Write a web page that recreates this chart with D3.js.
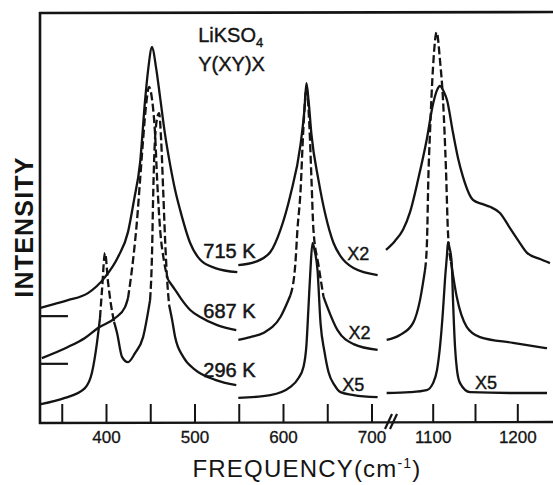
<!DOCTYPE html>
<html><head><meta charset="utf-8">
<script src="https://cdn.jsdelivr.net/npm/d3@7"></script>
<style>
body{margin:0;background:#fff;}
svg{display:block;}
text{font-family:"Liberation Sans",Arial,sans-serif;fill:#141414;}
</style></head><body>
<svg id="c" width="553" height="485"></svg>
<script>
// ---- axis data ----
const ticksLow = [350,400,450,500,550,600,650,700];
const ticksHigh = [1100,1150,1200];
const tickLabels = [400,500,600,700,1100,1200];
const tempLabels = ["715 K","687 K","296 K"];
const gainMid = ["X2","X2","X5"];
const gainHigh = ["X5"];
const zeroMarks = [26.0, 14.4];

// ---- spectra: [frequency cm^-1, intensity a.u., dashed-segment flag] ----
const k715_low = [[325.3,28.0],[342.2,29.0],[357.0,29.9],[379.6,31.6],[398.9,35.5],[413.6,40.4],[424.9,46.5],[431.7,54.3],[438.5,63.3],[444.2,78.6],[447.6,85.9],[452.1,91.5],[456.6,86.4],[461.1,79.3],[466.8,70.1],[472.5,62.8],[478.1,56.7],[483.8,51.8],[495.1,43.8],[506.5,39.7],[523.4,37.7],[548.4,36.7]];
const k687_low = [[327.5,15.8,0],[357.0,18.5,0],[376.2,20.7,0],[390.9,23.1,0],[410.2,25.5,0],[421.5,28.2,0],[424.9,30.4,1],[430.6,39.7,1],[435.1,49.4,1],[438.5,59.1,1],[441.9,68.9,1],[445.3,77.4,1],[448.7,81.8,1],[452.1,78.6,1],[455.5,70.1,1],[457.8,59.1,1],[461.2,47.0,1],[465.7,39.2,1],[470.2,34.8,0],[478.1,32.4,0],[484.9,30.2,0],[495.1,27.5,0],[506.5,25.8,0],[525.7,23.8,0],[547.2,22.6,0]];
const k296_low = [[326.4,4.6,0],[353.6,6.1,0],[376.2,8.5,0],[384.1,12.2,0],[389.8,19.5,0],[393.2,25.5,1],[395.5,32.4,1],[398.9,41.4,1],[402.3,34.3,1],[405.7,28.7,1],[409.1,24.6,0],[412.5,21.9,0],[418.1,16.1,0],[424.9,14.8,0],[432.8,17.0,0],[441.9,20.9,0],[449.8,29.9,1],[452.1,42.1,1],[453.2,54.3,1],[454.4,64.0,1],[456.6,72.5,1],[460.0,75.4,1],[462.3,68.9,1],[464.6,56.7,1],[466.8,44.5,1],[469.1,34.8,1],[471.3,28.7,0],[474.7,25.1,0],[478.1,20.9,0],[487.2,16.1,0],[500.8,12.9,0],[523.4,10.5,0],[547.2,9.2,0]];

const k715_mid = [[549.5,38.4],[568.7,39.2],[585.7,41.6],[597.1,47.0],[608.4,55.5],[619.7,67.6],[624.2,76.2],[626.5,82.7],[628.8,78.6],[632.2,70.1],[640.1,59.1],[648.0,50.6],[657.1,43.8],[665.0,40.6],[679.7,37.7],[706.9,36.0]];
const k687_mid = [[549.5,20.2,0],[563.1,20.9,0],[577.8,21.9,0],[597.1,25.8,0],[608.4,31.1,1],[614.0,38.9,1],[616.3,47.0,1],[619.7,56.0,1],[623.1,72.0,1],[626.5,81.5,1],[629.9,72.0,1],[632.2,59.1,1],[634.4,47.0,1],[640.1,38.4,1],[645.8,30.7,0],[661.6,22.6,0],[679.7,19.2,0],[706.9,17.8,0]];
const k296_mid = [[549.5,6.1],[585.7,6.8],[608.4,8.8],[617.4,10.9],[623.1,13.6],[626.5,19.0],[628.8,28.2],[631.0,37.2],[633.3,43.8],[635.6,42.1],[639.0,37.2],[642.4,24.3],[646.9,17.3],[651.4,12.4],[658.2,9.2],[665.0,7.5],[679.7,6.8],[706.9,6.3]];

const k715_high = [[1044.8,42.1],[1055.4,44.3],[1064.9,47.0],[1073.2,51.3],[1082.6,59.1],[1092.9,68.9],[1100.4,77.6],[1105.1,81.0],[1108.6,82.0],[1113.4,80.5],[1116.9,78.6],[1124.0,70.6],[1129.9,64.5],[1135.8,59.9],[1147.6,54.3],[1158.3,53.3],[1167.7,52.6],[1179.5,51.1],[1191.4,47.4],[1200.8,44.5],[1211.5,41.4],[1226.8,39.9],[1238.6,38.9]];
const k687_high = [[1045.6,20.2,0],[1061.3,21.4,0],[1076.7,24.3,0],[1085.0,29.9,0],[1090.9,37.2,1],[1093.3,44.5,1],[1094.8,59.1,1],[1096.8,70.6,1],[1100.4,86.6,1],[1104.7,95.1,1],[1108.6,88.3,1],[1112.2,78.6,1],[1115.7,61.6,1],[1118.1,46.2,1],[1121.6,39.2,0],[1128.4,30.7,0],[1140.2,23.4,0],[1155.9,20.9,0],[1194.9,19.5,0],[1235.1,18.2,0]];
const k296_high = [[1045.6,7.3],[1073.2,7.5],[1092.9,8.0],[1100.4,9.7],[1105.1,12.9],[1108.6,18.5],[1112.2,27.5],[1114.5,34.8],[1116.9,40.9],[1118.1,44.0],[1119.9,42.6],[1122.5,38.9],[1124.0,29.9],[1126.4,18.5],[1128.7,12.9],[1132.3,9.7],[1144.1,7.5],[1194.9,7.3],[1235.1,7.3]];

// ---- drawing ----
const ink = "#141414";
const svg = d3.select("#c");
const lowX = d3.scaleLinear().domain([400,700]).range([106,371.5]);
const highX = d3.scaleLinear().domain([1100,1200]).range([432.7,517.3]);
const y = d3.scaleLinear().domain([0,100]).range([423,12]);

// frame
svg.append("line").attr("x1",40).attr("x2",40).attr("y1",12).attr("y2",424).attr("stroke",ink).attr("stroke-width",2.6);
svg.append("line").attr("x1",39).attr("x2",553).attr("y1",13).attr("y2",12).attr("stroke",ink).attr("stroke-width",2.6);
svg.append("line").attr("x1",39).attr("x2",553).attr("y1",423).attr("y2",422).attr("stroke",ink).attr("stroke-width",2.4);

function addAxis(scale, vals){
  const g = svg.append("g").attr("transform","translate(0,423)")
    .call(d3.axisBottom(scale).tickValues(vals).tickSizeInner(-19).tickSizeOuter(0).tickPadding(8)
      .tickFormat(d => tickLabels.includes(d) ? d : ""));
  g.select(".domain").remove();
  g.selectAll(".tick line").attr("stroke",ink).attr("stroke-width",2);
  g.selectAll(".tick text").attr("font-size",17).attr("fill",ink).attr("stroke",ink).attr("stroke-width",0.3)
    .attr("font-family",'"Liberation Sans",Arial,sans-serif');
}
addAxis(lowX, ticksLow);
addAxis(highX, ticksHigh);

// axis break marks
[[385,392],[390,397]].forEach(p=>{
  svg.append("line").attr("x1",p[0]).attr("y1",429).attr("x2",p[1]).attr("y2",414)
    .attr("stroke",ink).attr("stroke-width",2.2);
});

// zero level marks
zeroMarks.forEach(v=>{
  svg.append("line").attr("x1",lowX(325.3)).attr("x2",lowX(357)).attr("y1",y(v)).attr("y2",y(v))
    .attr("stroke",ink).attr("stroke-width",2.2);
});

function runs(pts){
  const out=[]; let cur=[pts[0]]; let st=pts[0][2]||0;
  for(let i=1;i<pts.length;i++){
    cur.push(pts[i]);
    const ns = pts[i][2]||0;
    if(i<pts.length-1 && ns!==st){ out.push({st,pts:cur}); cur=[pts[i]]; st=ns; }
  }
  out.push({st,pts:cur});
  return out;
}
const spectra = [
  [k715_low,lowX],[k687_low,lowX],[k296_low,lowX],
  [k715_mid,lowX],[k687_mid,lowX],[k296_mid,lowX],
  [k715_high,highX],[k687_high,highX],[k296_high,highX]
];
spectra.forEach(([data,sx])=>{
  const line = d3.line().x(d=>sx(d[0])).y(d=>y(d[1])).curve(d3.curveMonotoneX);
  runs(data).forEach(r=>{
    svg.append("path").attr("d",line(r.pts)).attr("fill","none").attr("stroke",ink)
      .attr("stroke-width",2.3).attr("stroke-linejoin","round")
      .attr("stroke-dasharray", r.st ? "8,3.5" : null);
  });
});

// annotations
const lab = (x,yy,t,fs)=>svg.append("text").attr("x",x).attr("y",yy).attr("font-size",fs).text(t);
[[510,40.1],[510,25.5],[510,11.2]].forEach((p,i)=>lab(lowX(p[0]),y(p[1]),tempLabels[i],20).attr("stroke",ink).attr("stroke-width",0.5));
[[672.5,39.6],[674,20.4],[667,7.8]].forEach((p,i)=>lab(lowX(p[0]),y(p[1]),gainMid[i],18).attr("stroke",ink).attr("stroke-width",0.4));
lab(highX(1150),y(8.3),gainHigh[0],18).attr("stroke",ink).attr("stroke-width",0.4);

const t1 = lab(lowX(504.2),y(92.7),"LiKSO",20).attr("stroke",ink).attr("stroke-width",0.4);
t1.append("tspan").attr("dy",5).attr("font-size",13).text("4");
lab(lowX(504.2),y(85.6),"Y(XY)X",20).attr("stroke",ink).attr("stroke-width",0.4);

svg.append("text").attr("transform","translate(33,227) rotate(-90)").attr("text-anchor","middle")
  .attr("font-size",25).attr("font-weight","bold").attr("letter-spacing",1.2).text("INTENSITY");

const xl = svg.append("text").attr("x",307).attr("y",477).attr("text-anchor","middle")
  .attr("font-size",24).attr("letter-spacing",1.2);
xl.append("tspan").text("FREQUENCY(cm");
xl.append("tspan").attr("dy",-9).attr("font-size",14).text("-1");
xl.append("tspan").attr("dy",9).text(")");
</script></body></html>
